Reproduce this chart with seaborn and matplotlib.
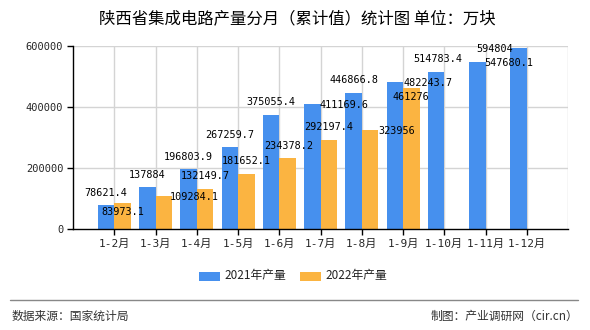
import matplotlib
matplotlib.use("Agg")
import matplotlib.pyplot as plt
import seaborn as sns
import pandas as pd
import numpy as np

# ---- data ----
months = ["1-2月", "1-3月", "1-4月", "1-5月", "1-6月", "1-7月", "1-8月", "1-9月", "1-10月", "1-11月", "1-12月"]
values_2021 = [78621.4, 137884, 196803.9, 267259.7, 375055.4, 411169.6, 446866.8, 482243.7, 514783.4, 547680.1, 594804]
values_2022 = [83973.1, 109284.1, 132149.7, 181652.1, 234378.2, 292197.4, 323956, 461276]
series_names = ["2021年产量", "2022年产量"]
yticks = [0, 200000, 400000, 600000]

# label offsets in pixels (dx, dy) -- style only
off_2021 = [(0, 12), (0, 12), (0, 12), (0, 12), (0, 13), (32, -1), (1, 13), (33, -1), (2, 13), (32, -1), (-24, -1)]
off_2022 = [(0, -9), (31, -1), (0, 13), (0, 13), (1, 12), (0, 13), (27, -1), (0, -9)]

rows = []
for m, v in zip(months, values_2021):
    rows.append({"month": m, "series": series_names[0], "value": v})
for m, v in zip(months, values_2022):
    rows.append({"month": m, "series": series_names[1], "value": v})
df = pd.DataFrame(rows)

sns.set_theme(style="white")
plt.rcParams["font.family"] = ["Noto Sans CJK SC", "DejaVu Sans"]

W, H = 590, 330
fig = plt.figure(figsize=(W / 100, H / 100), dpi=100)
ax = fig.add_axes([73 / W, 1 - 229 / H, (568 - 73) / W, (229 - 46) / H])

colors = ["#4690ee", "#fbb441"]
sns.barplot(data=df, x="month", y="value", hue="series", order=months,
            hue_order=series_names, palette=colors, width=0.8, saturation=1,
            linewidth=0, edgecolor="none",
            ax=ax, legend=False, errorbar=None, zorder=3)

ax.set_xlim(-1, 11)
ax.set_ylim(0, 600000)
ax.set_xlabel("")
ax.set_ylabel("")

# grid
for y in yticks[1:]:
    ax.axhline(y, color="#d4d4d4", lw=1, zorder=1)
for x in list(range(len(months))) + [11]:
    ax.axvline(x, color="#d4d4d4", lw=1, zorder=1)

for s in ["top", "right"]:
    ax.spines[s].set_visible(False)
for s in ["left", "bottom"]:
    ax.spines[s].set_color("black")
    ax.spines[s].set_linewidth(1)
    ax.spines[s].set_zorder(5)

ax.set_yticks(yticks)
ax.set_yticklabels([str(v) for v in yticks], family=["DejaVu Sans Mono"], fontsize=7.5)
ax.set_xticks(range(len(months)))
ax.set_xticklabels(months, family=["DejaVu Sans Mono", "Noto Sans CJK SC"], fontsize=8)
ax.tick_params(axis="both", which="both", length=4, width=1, color="black", direction="out",
               left=True, bottom=True, pad=3)


def fmt(v):
    s = "%.1f" % v
    return s.rstrip("0").rstrip(".")


label_font = dict(family=["DejaVu Sans Mono"], fontsize=7.3, color="black")
for container, vals, offs in zip(ax.containers, [values_2021, values_2022], [off_2021, off_2022]):
    patches = [p for p in container.patches if not np.isnan(p.get_height())]
    for p, v, (dx, dy) in zip(patches, vals, offs):
        ax.annotate(fmt(v), (p.get_x() + p.get_width() / 2, p.get_height()),
                    xytext=(dx, dy), textcoords="offset pixels",
                    ha="center", va="center", zorder=6, **label_font)

# title
fig.text(297 / W, 1 - 19 / H, "陕西省集成电路产量分月（累计值）统计图 单位：万块",
         ha="center", va="center", fontsize=11.8, color="black")

# legend
from matplotlib.patches import Rectangle
ly = 1 - 276 / H
for i, (name, c) in enumerate(zip(series_names, colors)):
    x0 = (199 + i * 101) / W
    fig.patches.append(Rectangle((x0, ly - 4.5 / H), 21 / W, 9 / H, transform=fig.transFigure,
                                 facecolor=c, edgecolor="none"))
    fig.text(x0 + 25 / W, ly, name, ha="left", va="center", fontsize=8.5, color="#222222")

# footer
fig.add_artist(plt.Line2D([10 / W, 578 / W], [1 - 300 / H, 1 - 300 / H],
                          transform=fig.transFigure, color="#888888", lw=1))
fig.text(12 / W, 1 - 316 / H, "数据来源：国家统计局", ha="left", va="center",
         fontsize=8.5, color="#333333")
fig.text(578 / W, 1 - 316 / H, "制图：产业调研网（cir.cn）", ha="right", va="center",
         fontsize=8.5, color="#333333")

fig.savefig("out.png", dpi=100, facecolor="white")
